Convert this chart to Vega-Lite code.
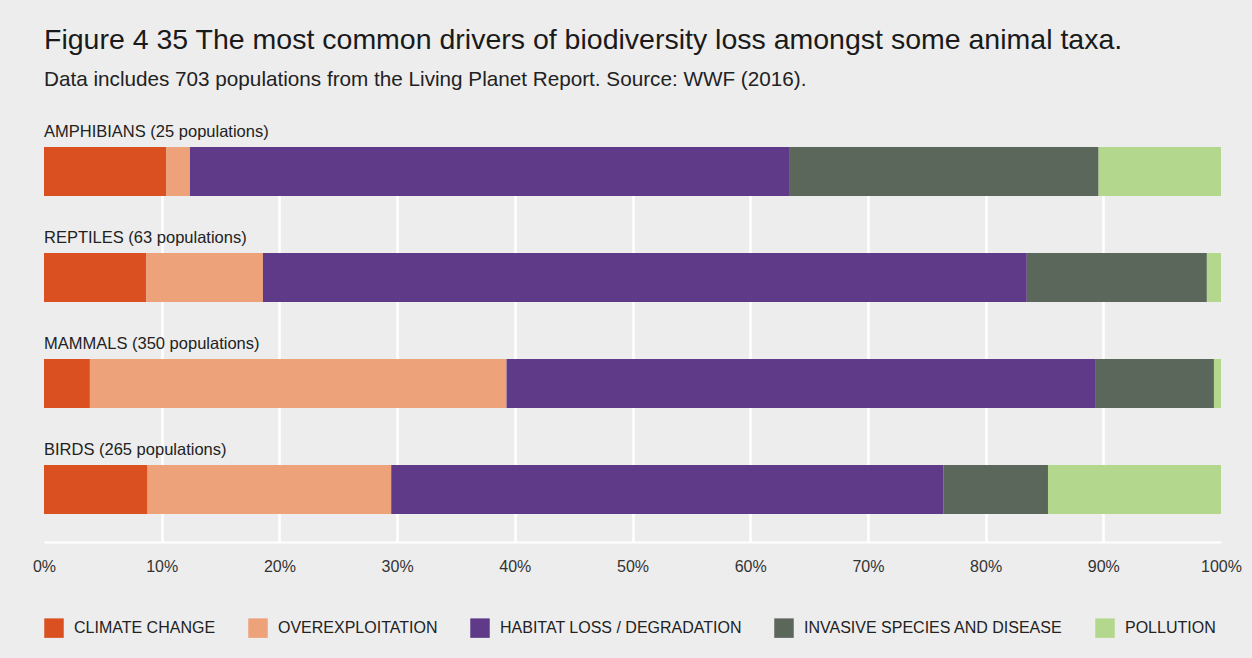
{
  "$schema": "https://vega.github.io/schema/vega-lite/v6.json",
  "width": 1177,
  "height": 395,
  "autosize": {"type": "none"},
  "padding": {"left": 44, "top": 147, "right": 31, "bottom": 116},
  "background": "#ededed",
  "title": {
    "text": "Figure 4 35 The most common drivers of biodiversity loss amongst some animal taxa.",
    "subtitle": "Data includes 703 populations from the Living Planet Report. Source: WWF (2016).",
    "anchor": "start",
    "frame": "group",
    "font": "Liberation Sans",
    "fontSize": 28.5,
    "fontWeight": "normal",
    "color": "#1a1a1a",
    "subtitleFont": "Liberation Sans",
    "subtitleFontSize": 20.7,
    "subtitleColor": "#222222",
    "subtitlePadding": 15,
    "offset": 34
  },
  "datasets": {
    "drivers": [
      {"taxon": "AMPHIBIANS", "driver": "CLIMATE CHANGE", "share": 10.4},
      {"taxon": "AMPHIBIANS", "driver": "OVEREXPLOITATION", "share": 2.0},
      {"taxon": "AMPHIBIANS", "driver": "HABITAT LOSS / DEGRADATION", "share": 50.9},
      {"taxon": "AMPHIBIANS", "driver": "INVASIVE SPECIES AND DISEASE", "share": 26.3},
      {"taxon": "AMPHIBIANS", "driver": "POLLUTION", "share": 10.4},
      {"taxon": "REPTILES", "driver": "CLIMATE CHANGE", "share": 8.7},
      {"taxon": "REPTILES", "driver": "OVEREXPLOITATION", "share": 9.9},
      {"taxon": "REPTILES", "driver": "HABITAT LOSS / DEGRADATION", "share": 64.9},
      {"taxon": "REPTILES", "driver": "INVASIVE SPECIES AND DISEASE", "share": 15.3},
      {"taxon": "REPTILES", "driver": "POLLUTION", "share": 1.2},
      {"taxon": "MAMMALS", "driver": "CLIMATE CHANGE", "share": 3.9},
      {"taxon": "MAMMALS", "driver": "OVEREXPLOITATION", "share": 35.4},
      {"taxon": "MAMMALS", "driver": "HABITAT LOSS / DEGRADATION", "share": 50.0},
      {"taxon": "MAMMALS", "driver": "INVASIVE SPECIES AND DISEASE", "share": 10.1},
      {"taxon": "MAMMALS", "driver": "POLLUTION", "share": 0.6},
      {"taxon": "BIRDS", "driver": "CLIMATE CHANGE", "share": 8.8},
      {"taxon": "BIRDS", "driver": "OVEREXPLOITATION", "share": 20.7},
      {"taxon": "BIRDS", "driver": "HABITAT LOSS / DEGRADATION", "share": 46.9},
      {"taxon": "BIRDS", "driver": "INVASIVE SPECIES AND DISEASE", "share": 8.9},
      {"taxon": "BIRDS", "driver": "POLLUTION", "share": 14.7}
    ],
    "labels": [
      {"taxon": "AMPHIBIANS", "label": "AMPHIBIANS (25 populations)"},
      {"taxon": "REPTILES", "label": "REPTILES (63 populations)"},
      {"taxon": "MAMMALS", "label": "MAMMALS (350 populations)"},
      {"taxon": "BIRDS", "label": "BIRDS (265 populations)"}
    ]
  },
  "layer": [
    {
      "data": {"name": "drivers"},
      "transform": [
        {"calculate": "indexof(['CLIMATE CHANGE', 'OVEREXPLOITATION', 'HABITAT LOSS / DEGRADATION', 'INVASIVE SPECIES AND DISEASE', 'POLLUTION'], datum.driver)", "as": "driverOrder"}
      ],
      "mark": {"type": "bar"},
      "encoding": {
        "y": {
          "field": "taxon",
          "type": "nominal",
          "sort": ["AMPHIBIANS", "REPTILES", "MAMMALS", "BIRDS"],
          "axis": null,
          "scale": {"paddingInner": 0.5377, "paddingOuter": 0.132, "align": 0}
        },
        "x": {
          "field": "share",
          "type": "quantitative",
          "stack": "zero",
          "scale": {"domain": [0, 100], "nice": false},
          "axis": {
            "title": null,
            "values": [0, 10, 20, 30, 40, 50, 60, 70, 80, 90, 100],
            "labelExpr": "datum.value + '%'",
            "labelFlush": false,
            "grid": true,
            "gridColor": "#ffffff",
            "gridWidth": 2.5,
            "gridOpacity": {"condition": {"test": "datum.value === 0 || datum.value === 100", "value": 0}, "value": 1},
            "domainColor": "#ffffff",
            "domainWidth": 2,
            "ticks": false,
            "tickSize": 0,
            "labelFont": "Liberation Sans",
            "labelFontSize": 16,
            "labelColor": "#333333",
            "labelPadding": 16
          }
        },
        "order": {"field": "driverOrder", "type": "quantitative", "sort": "ascending"},
        "color": {
          "field": "driver",
          "type": "nominal",
          "sort": ["CLIMATE CHANGE", "OVEREXPLOITATION", "HABITAT LOSS / DEGRADATION", "INVASIVE SPECIES AND DISEASE", "POLLUTION"],
          "scale": {
            "domain": ["CLIMATE CHANGE", "OVEREXPLOITATION", "HABITAT LOSS / DEGRADATION", "INVASIVE SPECIES AND DISEASE", "POLLUTION"],
            "range": ["#da5020", "#eda27a", "#5e3a89", "#5c675b", "#b3d88d"]
          },
          "legend": {
            "title": null,
            "orient": "bottom",
            "direction": "horizontal",
            "symbolType": "square",
            "symbolSize": 380,
            "symbolStrokeWidth": 0,
            "symbolOpacity": 1,
            "labelFont": "Liberation Sans",
            "labelFontSize": 16,
            "labelColor": "#222222",
            "labelOffset": 10,
            "labelLimit": 400,
            "columnPadding": 32,
            "offset": 44,
            "padding": 0
          }
        }
      }
    },
    {
      "data": {"name": "labels"},
      "mark": {"type": "text", "align": "left", "baseline": "middle", "dy": -40, "font": "Liberation Sans", "fontSize": 16.5, "color": "#222222"},
      "encoding": {
        "y": {"field": "taxon", "type": "nominal", "sort": ["AMPHIBIANS", "REPTILES", "MAMMALS", "BIRDS"]},
        "x": {"datum": 0},
        "text": {"field": "label"}
      }
    }
  ],
  "config": {"view": {"stroke": null}}
}
